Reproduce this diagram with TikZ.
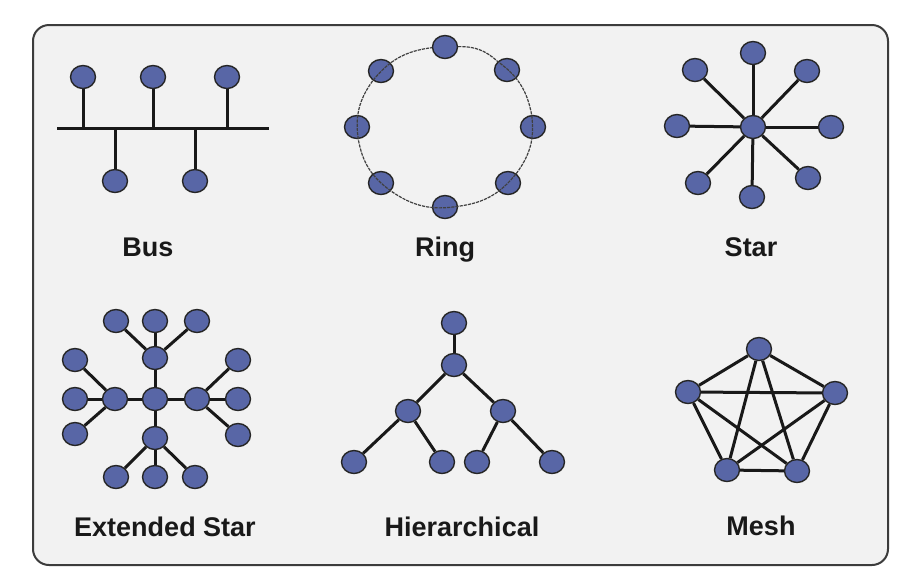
\documentclass[tikz,border=0pt]{standalone}
\usepackage{fontspec}
\setmainfont{Liberation Sans}
\usetikzlibrary{shapes.geometric}
\definecolor{nodeblue}{RGB}{88,102,166}
\definecolor{panelgray}{RGB}{242,242,242}
\definecolor{edgegray}{RGB}{60,60,60}

\begin{document}
\begin{tikzpicture}[x=0.5pt, y=-0.5pt, font=\bfseries\fontsize{13.5}{16}\selectfont,
  dev/.style={ellipse, draw=black!85, line width=0.7pt, fill=nodeblue, minimum width=12.5pt, minimum height=11.5pt, inner sep=0pt},
  link/.style={line width=1.5pt, draw=black!90},
  ringlink/.style={line width=0.6pt, draw=black!75, dash pattern=on 1.6pt off 0.5pt},
  lbl/.style={text=black!90, inner sep=0pt, anchor=base}]
\useasboundingbox (0,0) rectangle (912,586);
\draw[edgegray, line width=1pt, fill=panelgray, rounded corners=8pt] (33,25) rectangle (888,565);

% bus
\coordinate (busL) at (57,128);
\coordinate (busR) at (269,128);
\node[dev] (bus1) at (83,77) {};
\node[dev] (bus2) at (153,77) {};
\node[dev] (bus3) at (227,77) {};
\node[dev] (bus4) at (115,181) {};
\node[dev] (bus5) at (195,181) {};
\draw[link] (busL) -- (busR);
\draw[link] (bus1) -- (bus1 |- busL);
\draw[link] (bus2) -- (bus2 |- busL);
\draw[link] (bus3) -- (bus3 |- busL);
\draw[link] (bus4) -- (bus4 |- busL);
\draw[link] (bus5) -- (bus5 |- busL);
\node[lbl] (busText) at (148,256) {Bus};

% ring
\node[dev] (ring1) at (445,47) {};
\node[dev] (ring2) at (507,70) {};
\node[dev] (ring3) at (533,127) {};
\node[dev] (ring4) at (508,183) {};
\node[dev] (ring5) at (445,207) {};
\node[dev] (ring6) at (381,183) {};
\node[dev] (ring7) at (357,127) {};
\node[dev] (ring8) at (381,71) {};
\draw[ringlink] (ring1) to[bend left=22] (ring2) to[bend left=22] (ring3)
  to[bend left=22] (ring4) to[bend left=22] (ring5) to[bend left=22] (ring6)
  to[bend left=22] (ring7) to[bend left=22] (ring8) to[bend left=22] (ring1);
\node[lbl] (ringText) at (445,256) {Ring};

% star
\node[dev] (star0) at (753,127) {};
\node[dev] (star1) at (753,53) {};
\node[dev] (star2) at (807,71) {};
\node[dev] (star3) at (831,127) {};
\node[dev] (star4) at (808,178) {};
\node[dev] (star5) at (752,197) {};
\node[dev] (star6) at (698,183) {};
\node[dev] (star7) at (677,126) {};
\node[dev] (star8) at (695,70) {};
\foreach \s in {1,...,8}
  \draw[link] (star0) -- (star\s);
\node[lbl] (starText) at (751,256) {Star};

% extended star
\node[dev] (ext0) at (155,399) {};
\node[dev] (extT) at (155,358) {};
\node[dev] (extL) at (115,399) {};
\node[dev] (extR) at (197,399) {};
\node[dev] (extB) at (155,438) {};
\node[dev] (extT1) at (116,321) {};
\node[dev] (extT2) at (155,321) {};
\node[dev] (extT3) at (197,321) {};
\node[dev] (extL1) at (75,360) {};
\node[dev] (extL2) at (75,399) {};
\node[dev] (extL3) at (75,434) {};
\node[dev] (extR1) at (238,360) {};
\node[dev] (extR2) at (238,399) {};
\node[dev] (extR3) at (238,435) {};
\node[dev] (extB1) at (116,477) {};
\node[dev] (extB2) at (155,477) {};
\node[dev] (extB3) at (195,477) {};
\foreach \h in {T,L,R,B} {
  \draw[link] (ext0) -- (ext\h);
  \foreach \k in {1,2,3}
    \draw[link] (ext\h) -- (ext\h\k);
}
\node[lbl] (extText) at (165,536) {Extended Star};

% hierarchical
\node[dev] (hier1) at (454,323) {};
\node[dev] (hier2) at (454,365) {};
\node[dev] (hier3) at (408,411) {};
\node[dev] (hier4) at (503,411) {};
\node[dev] (hier5) at (354,462) {};
\node[dev] (hier6) at (442,462) {};
\node[dev] (hier7) at (477,462) {};
\node[dev] (hier8) at (552,462) {};
\draw[link] (hier1) -- (hier2);
\draw[link] (hier2) -- (hier3);
\draw[link] (hier2) -- (hier4);
\draw[link] (hier3) -- (hier5);
\draw[link] (hier3) -- (hier6);
\draw[link] (hier4) -- (hier7);
\draw[link] (hier4) -- (hier8);
\node[lbl] (hierText) at (462,536) {Hierarchical};

% mesh
\node[dev] (mesh1) at (759,349) {};
\node[dev] (mesh2) at (835,393) {};
\node[dev] (mesh3) at (797,471) {};
\node[dev] (mesh4) at (727,470) {};
\node[dev] (mesh5) at (688,392) {};
\foreach \a/\b in {1/2,1/3,1/4,1/5,2/3,2/4,2/5,3/4,3/5,4/5}
  \draw[link] (mesh\a) -- (mesh\b);
\node[lbl] (meshText) at (761,535) {Mesh};
\end{tikzpicture}
\end{document}
